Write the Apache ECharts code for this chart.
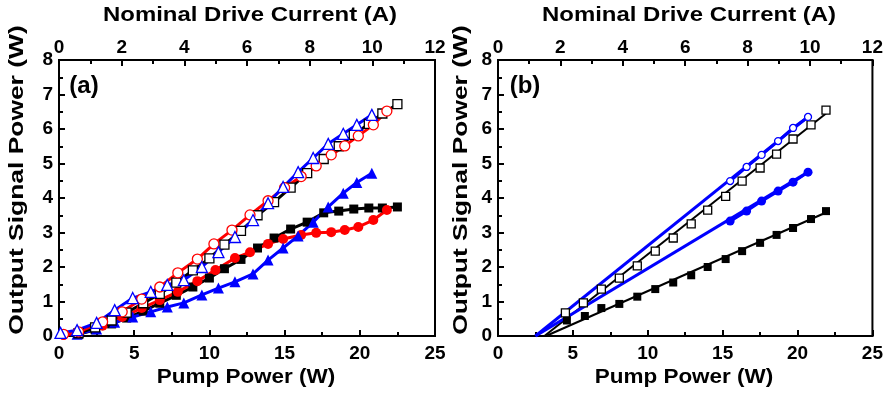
<!DOCTYPE html>
<html><head><meta charset="utf-8">
<script src="https://cdn.jsdelivr.net/npm/echarts@6/dist/echarts.min.js"></script>
<style>html,body{margin:0;padding:0;background:#fff}#c{width:886px;height:393px}</style>
</head><body><div id="c"></div>
<script>
// ---- Panel (a) data: [pump power (W), output signal power (W)]
const aBlackOpenX = [1.3, 2.4, 3.5, 4.5, 5.6, 6.7, 7.8, 8.9, 10.0, 11.0, 12.1, 13.2, 14.3, 15.4, 16.5, 17.6, 18.6, 19.6, 20.6, 21.5, 22.5];
const aBlackOpenY = [0.08, 0.25, 0.45, 0.68, 0.95, 1.22, 1.55, 1.9, 2.25, 2.65, 3.05, 3.5, 3.88, 4.3, 4.72, 5.13, 5.5, 5.83, 6.15, 6.45, 6.72];
const aBlackFillX = aBlackOpenX;
const aBlackFillY = [0.05, 0.18, 0.35, 0.52, 0.72, 0.95, 1.18, 1.42, 1.68, 1.95, 2.22, 2.55, 2.84, 3.10, 3.30, 3.57, 3.62, 3.68, 3.71, 3.71, 3.74];
const aRedOpenX = [0.3, 1.3, 2.9, 4.2, 5.5, 6.7, 7.9, 9.2, 10.3, 11.5, 12.7, 13.9, 15.0, 16.1, 17.1, 18.1, 19.0, 19.9, 20.9, 21.8];
const aRedOpenY = [0.05, 0.12, 0.41, 0.70, 1.07, 1.42, 1.83, 2.23, 2.67, 3.07, 3.51, 3.92, 4.3, 4.62, 4.93, 5.25, 5.51, 5.8, 6.12, 6.52];
const aRedFillX = [0.3, 1.3, 2.9, 4.2, 5.5, 6.7, 7.9, 9.2, 10.4, 11.7, 12.7, 13.9, 14.9, 16.1, 17.1, 18.1, 19.0, 19.9, 20.9, 21.8];
const aRedFillY = [0.03, 0.08, 0.3, 0.55, 0.81, 1.04, 1.28, 1.59, 1.91, 2.26, 2.43, 2.67, 2.81, 2.93, 2.99, 3.01, 3.07, 3.16, 3.36, 3.65];
const aBlueOpenX = [0.1, 1.2, 2.5, 3.7, 4.9, 6.1, 7.2, 8.3, 9.5, 10.6, 11.7, 12.9, 13.9, 14.9, 15.9, 16.9, 17.9, 18.9, 19.8, 20.8];
const aBlueOpenY = [0.09, 0.17, 0.38, 0.75, 1.1, 1.28, 1.48, 1.62, 2.0, 2.43, 2.87, 3.36, 3.85, 4.32, 4.75, 5.16, 5.57, 5.86, 6.12, 6.41];
const aBlueFillX = [1.2, 2.5, 3.7, 4.9, 6.1, 7.2, 8.3, 9.5, 10.6, 11.7, 12.9, 13.9, 14.9, 15.9, 16.9, 17.9, 18.9, 19.8, 20.8];
const aBlueFillY = [0.05, 0.2, 0.4, 0.55, 0.7, 0.84, 0.96, 1.19, 1.39, 1.57, 1.8, 2.2, 2.55, 2.9, 3.3, 3.74, 4.14, 4.45, 4.72];

// ---- Panel (b) data
const bBlackOpenX = [4.5, 5.7, 6.9, 8.1, 9.3, 10.5, 11.7, 12.9, 14.0, 15.2, 16.3, 17.5, 18.6, 19.7, 20.9, 21.9];
const bBlackOpenY = [0.67, 0.96, 1.36, 1.68, 2.03, 2.46, 2.84, 3.25, 3.65, 4.05, 4.49, 4.87, 5.27, 5.71, 6.12, 6.55];
const bBlackFillX = [4.6, 5.8, 6.9, 8.1, 9.3, 10.5, 11.7, 12.9, 14.0, 15.2, 16.3, 17.5, 18.6, 19.7, 20.9, 21.9];
const bBlackFillY = [0.45, 0.58, 0.81, 0.93, 1.14, 1.36, 1.55, 1.76, 2.0, 2.23, 2.46, 2.7, 2.93, 3.13, 3.39, 3.62];
const bBlueOpenX = [15.5, 16.6, 17.6, 18.7, 19.7, 20.7];
const bBlueOpenY = [4.49, 4.9, 5.25, 5.65, 6.03, 6.35];
const bBlueFillX = [15.5, 16.6, 17.6, 18.7, 19.7, 20.7];
const bBlueFillY = [3.33, 3.62, 3.91, 4.2, 4.46, 4.75];
// linear fits: end points
const bFitBlackOpenX = [3.1, 21.9], bFitBlackOpenY = [0, 6.45];
const bFitBlackFillX = [3.2, 21.9], bFitBlackFillY = [0, 3.58];
const bFitBlueOpenX = [2.5, 20.7], bFitBlueOpenY = [0, 6.35];
const bFitBlueFillX = [2.5, 20.7], bFitBlueFillY = [0, 4.75];

// ---- Axis ticks and titles
const pumpTicks = {min: 0, max: 25, interval: 5};
const driveTicks = {min: 0, max: 12, interval: 2};
const powerTicks = {min: 0, max: 8, interval: 1};
const panelLabels = ['(a)', '(b)'];
const topTitle = 'Nominal Drive Current (A)';
const bottomTitle = 'Pump Power (W)';
const leftTitle = 'Output Signal Power (W)';

const zip = (xs, ys) => xs.map((x, i) => [x, ys[i]]);
const FONT = "'Liberation Sans', Arial, sans-serif";
const lab = {color: '#000', fontWeight: 'bold', fontSize: 19, fontFamily: FONT};
const axLine = {show: true, onZero: false, lineStyle: {color: '#000', width: 2}};
const tick = {inside: true, length: 6, lineStyle: {width: 2, color: '#000'}};
const minor = {show: true, splitNumber: 2, length: 4, lineStyle: {width: 2, color: '#000'}};

function xBottom(g) {
  return {type: 'value', gridIndex: g, position: 'bottom', ...pumpTicks,
    axisLine: axLine, axisTick: tick, minorTick: minor,
    axisLabel: {...lab, margin: 8}, splitLine: {show: false}};
}
function xTop(g) {
  return {type: 'value', gridIndex: g, position: 'top', ...driveTicks,
    axisLine: axLine, axisTick: tick, minorTick: minor,
    axisLabel: {...lab, margin: 3}, splitLine: {show: false}};
}
function yLeft(g) {
  return {type: 'value', gridIndex: g, position: 'left', ...powerTicks,
    axisLine: axLine, axisTick: tick, minorTick: minor,
    axisLabel: {...lab, margin: 6}, splitLine: {show: false}};
}

function mk(g, data, color, symbol, filled, size, lw, showLine) {
  return {type: 'line', xAxisIndex: g * 2, yAxisIndex: g, data, symbol, symbolSize: size,
    showSymbol: true, animation: false,
    lineStyle: {color, width: showLine ? lw : 0},
    itemStyle: {color: filled ? color : '#fff', borderColor: color, borderWidth: filled ? 0 : 1.3}};
}
function fit(g, data, color, lw) {
  return {type: 'line', xAxisIndex: g * 2, yAxisIndex: g, data, symbol: 'none', animation: false,
    lineStyle: {color, width: lw}};
}
function txt(text, x, y, size, sx, rot) {
  return {type: 'text', x, y, rotation: rot || 0, scaleX: sx, scaleY: 1, z: 100,
    style: {text, fill: '#000', font: 'bold ' + size + 'px ' + FONT, textAlign: 'center', textVerticalAlign: 'middle'}};
}

const RED = '#ff0000', BLUE = '#0000ff', BLACK = '#000000';
const option = {
  backgroundColor: '#fff',
  animation: false,
  graphic: [
    txt(topTitle, 250, 15, 21, 1.14),
    txt(topTitle, 689, 15, 21, 1.14),
    txt(bottomTitle, 246, 377, 21, 1.07),
    txt(bottomTitle, 684, 377, 21, 1.07),
    txt(leftTitle, 17, 180, 20, 1.32, Math.PI / 2),
    txt(leftTitle, 461, 180, 20, 1.32, Math.PI / 2),
    txt(panelLabels[0], 84, 86, 24, 1.0),
    txt(panelLabels[1], 525, 86, 24, 1.0)
  ],
  grid: [
    {left: 59, top: 60, width: 376, height: 276, show: true, borderColor: '#000', borderWidth: 2, backgroundColor: 'transparent'},
    {left: 498, top: 60, width: 375, height: 276, show: true, borderColor: '#000', borderWidth: 2, backgroundColor: 'transparent'}
  ],
  xAxis: [xBottom(0), xTop(0), xBottom(1), xTop(1)],
  yAxis: [yLeft(0), yLeft(1)],
  series: [
    mk(0, zip(aBlackFillX, aBlackFillY), BLACK, 'rect', true, 9, 3, true),
    mk(0, zip(aRedFillX, aRedFillY), RED, 'circle', true, 10, 3, true),
    mk(0, zip(aBlueFillX, aBlueFillY), BLUE, 'triangle', true, 11, 3, true),
    mk(0, zip(aBlackOpenX, aBlackOpenY), BLACK, 'rect', false, 9, 3, true),
    mk(0, zip(aRedOpenX, aRedOpenY), RED, 'circle', false, 10, 3, true),
    mk(0, zip(aBlueOpenX, aBlueOpenY), BLUE, 'triangle', false, 11, 3, true),

    fit(1, zip(bFitBlackFillX, bFitBlackFillY), BLACK, 2),
    fit(1, zip(bFitBlackOpenX, bFitBlackOpenY), BLACK, 2),
    fit(1, zip(bFitBlueOpenX, bFitBlueOpenY), BLUE, 3),
    fit(1, zip(bFitBlueFillX, bFitBlueFillY), BLUE, 3),
    mk(1, zip(bBlackFillX, bBlackFillY), BLACK, 'rect', true, 8, 2, false),
    mk(1, zip(bBlackOpenX, bBlackOpenY), BLACK, 'rect', false, 8, 2, false),
    mk(1, zip(bBlueFillX, bBlueFillY), BLUE, 'circle', true, 9, 3, true),
    mk(1, zip(bBlueOpenX, bBlueOpenY), BLUE, 'circle', false, 7, 3, true)
  ]
};
const chart = echarts.init(document.getElementById('c'), null, {renderer: 'canvas'});
chart.setOption(option);
</script></body></html>
